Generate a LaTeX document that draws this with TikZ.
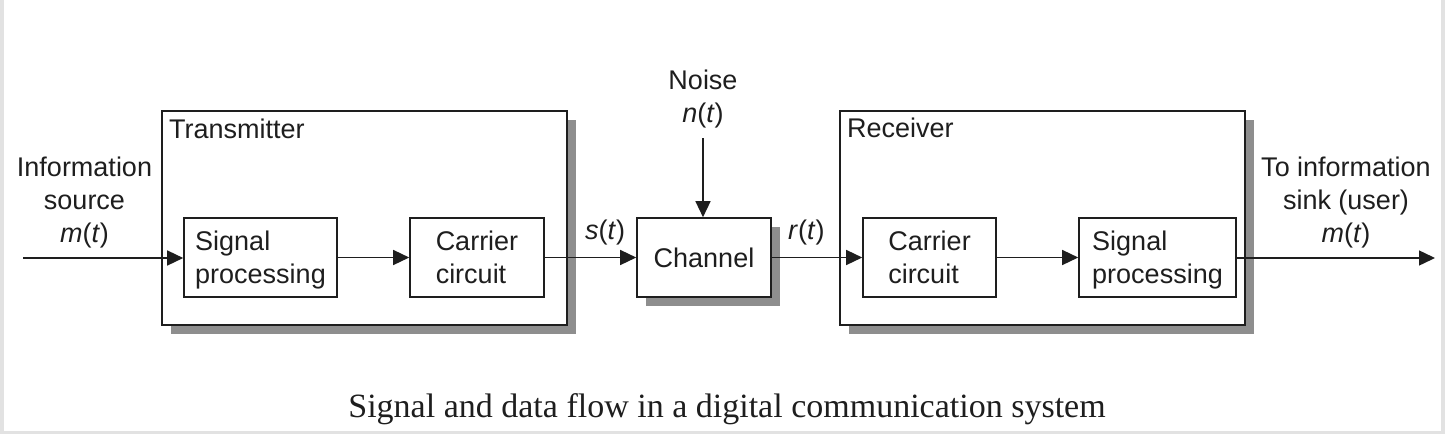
\documentclass[tikz,border=0pt]{standalone}
\usepackage{fontspec}
\setmainfont{Liberation Sans}
\newfontfamily\capfont{Liberation Serif}
\usetikzlibrary{arrows.meta,shadows}
\definecolor{ink}{HTML}{1E1E1E}
\definecolor{shade}{HTML}{8E8E8E}
\definecolor{rim}{HTML}{E2E2E2}
\newcommand{\sigvar}[1]{\textit{#1}(\textit{t})}
\newcommand{\topfix}{\rule{0pt}{23.7pt}}
\begin{document}
\begin{tikzpicture}[x=1pt,y=-1pt,
  every node/.style={font=\fontsize{27}{33}\selectfont, text=ink},
  blk/.style={draw=ink, line width=1.6pt, fill=white, minimum height=79pt, inner sep=0pt, align=left},
  outer/.style={draw=ink, line width=1.6pt, fill=white, inner sep=0pt},
  shd/.style={drop shadow={shadow xshift=9pt, shadow yshift=-9pt, fill=shade, opacity=1}},
  flow/.style={draw=ink, line width=1.4pt, -{Triangle[length=16pt,width=15pt]}},
  lbl/.style={align=center, inner sep=0pt}
]
\useasboundingbox (0,0) rectangle (1445,434);
\fill[white] (0,0) rectangle (1445,434);
\fill[rim] (0,0) rectangle (4,434);
\fill[rim] (1441,0) rectangle (1445,434);
\fill[rim] (0,431) rectangle (1445,434);

% container boxes
\node[outer, shd, minimum width=405pt, minimum height=214pt] (tx) at (364.5,218) {};
\node[outer, shd, minimum width=405pt, minimum height=214pt] (rx) at (1042.5,218) {};
\node[anchor=base west, inner sep=0pt] (txl) at (169,138) {Transmitter};
\node[anchor=base west, inner sep=0pt] (rxl) at (847,137) {Receiver};

% blocks
\node[blk, minimum width=153pt] (sp1) at (260.5,257.5) {\topfix Signal\\processing};
\node[blk, minimum width=134pt] (cc1) at (477,257.5) {\topfix Carrier\\circuit\vphantom{g}};
\node[blk, shd, minimum width=134pt] (ch) at (704,257.5) {Channel};
\node[blk, minimum width=133pt] (cc2) at (929.5,257.5) {\topfix Carrier\\circuit\vphantom{g}};
\node[blk, minimum width=157pt] (sp2) at (1157.5,257.5) {\topfix Signal\\processing};

% labels
\node[lbl] (src) at (84.5,203) {Information\\source\\\sigvar{m}};
\node[lbl] (snk) at (1346,203) {To information\\sink (user)\\\sigvar{m}};
\node[lbl] (noise) at (703,99) {Noise\\\sigvar{n}};
\node[anchor=base west, inner sep=0pt] (st) at (585,239) {\sigvar{s}};
\node[anchor=base west, inner sep=0pt] (rt) at (788,239) {\sigvar{r}};

% connectors
\coordinate (inp) at (23,258);
\coordinate (outp) at (1435,258);
\coordinate (nz) at (703,138);
\draw[flow] (inp) -- (inp -| sp1.west);
\draw[flow] (sp1) -- (cc1);
\draw[flow] (cc1) -- (ch);
\draw[flow] (ch) -- (cc2);
\draw[flow] (cc2) -- (sp2);
\draw[flow] (sp2.east |- outp) -- (outp);
\draw[flow] (nz) -- (nz |- ch.north);

% caption
\node[font=\capfont\fontsize{34}{40}\selectfont, anchor=base, inner sep=0pt] (cap) at (727,417) {Signal and data flow in a digital communication system};
\end{tikzpicture}
\end{document}
